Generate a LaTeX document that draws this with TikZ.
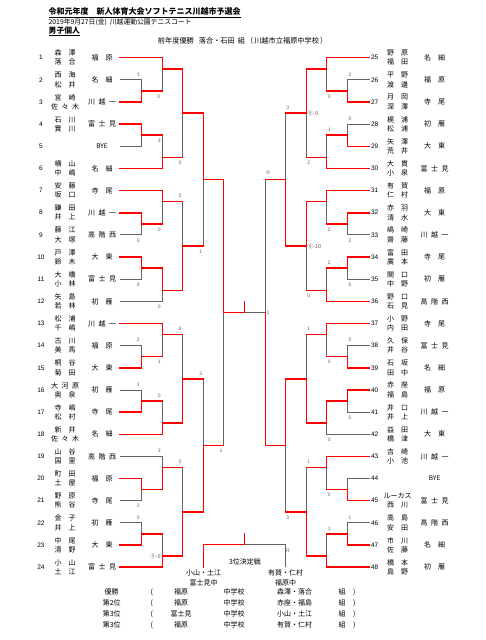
\documentclass[tikz,border=0pt]{standalone}
\usepackage{fontspec}
\setmainfont{Liberation Sans}
\newfontfamily\jp{Noto Sans CJK JP}
\definecolor{lg}{RGB}{100,100,100}
\definecolor{rd}{RGB}{255,0,0}
\newcommand\twoc[2]{#1\hspace{7pt}#2}
\newcommand\thrc[3]{#1\hspace{3.5pt}#2\hspace{3.5pt}#3}
\newcommand\Lrow[4]{%
  \pgfmathsetmacro\yy{57.7+22.15*(#1-1)}%
  \node[num] (Ln#1) at (41,\yy) {#1};
  \node[nm] (La#1) at (65,{\yy-4.6}) {#2};
  \node[nm] (Lb#1) at (65,{\yy+4.6}) {#3};
  \node[nm] (Ls#1) at (102,\yy) {#4};}
\newcommand\Rrow[4]{%
  \pgfmathsetmacro\yy{57.7+22.15*(#1-25)}%
  \node[num] (Rn#1) at (374.7,\yy) {#1};
  \node[nm] (Ra#1) at (397.7,{\yy-4.6}) {#2};
  \node[nm] (Rb#1) at (397.7,{\yy+4.6}) {#3};
  \node[nm] (Rs#1) at (434.7,\yy) {#4};}
\begin{document}
\begin{tikzpicture}[x=1pt,y=-1pt,
  declare function={ky(\k)=57.7+11.075*\k;},
  gl/.style={draw=lg,line width=0.9pt,line cap=rect},
  rl/.style={draw=rd,line width=1.5pt,line cap=rect},
  num/.style={inner sep=0pt,font=\fontsize{6.5}{7}\selectfont},
  nm/.style={inner sep=0pt,font=\jp\fontsize{7}{8}\selectfont},
  sc/.style={inner sep=0pt,font=\fontsize{5}{6}\selectfont,text=lg},
  scj/.style={inner sep=0pt,font=\jp\fontsize{5.5}{6}\selectfont,text=lg},
  bt/.style={inner sep=0pt,font=\jp\fontsize{7}{8}\selectfont}]
\fill[white] (0,0) rectangle (486,640);
\useasboundingbox (0,0) rectangle (486,640);

% header
\node[anchor=west,inner sep=0pt,font=\jp\bfseries\fontsize{8}{9}\selectfont] (title) at (48.5,12.5) {\underline{令和元年度　新人体育大会ソフトテニス川越市予選会}};
\node[anchor=west,inner sep=0pt,font=\jp\fontsize{6.8}{8}\selectfont] (date) at (48.5,22.5) {2019年9月27日(金)\hspace{3pt}川越運動公園テニスコート};
\node[anchor=west,inner sep=0pt,font=\jp\bfseries\fontsize{7.8}{9}\selectfont] (sex) at (48.5,31.5) {\underline{男子個人}};
\node[anchor=west,inner sep=0pt,font=\jp\fontsize{7.2}{8}\selectfont] (prev) at (157.7,40.5) {前年度優勝\hspace{5pt}落合・石田\hspace{3pt}組\hspace{1pt}（\hspace{1pt}川越市立福原中学校\hspace{1pt}）};

% gray leaves
\foreach \k/\xe in {2/141.7,8/141.7,16/141.7,20/141.7,22/162.3,26/141.7,30/141.7,36/162.3,40/141.7,42/141.7}
  \draw[gl] (120,{ky(\k)}) -- (\xe,{ky(\k)});
\foreach \k/\xe in {2/347.3,6/347.3,16/347.3,20/347.3,26/347.3,32/347.3,34/326.7,38/347.3,42/347.3}
  \draw[gl] (369.3,{ky(\k)}) -- (\xe,{ky(\k)});

% match verticals (gray)
\foreach \xv/\kt/\kb in {141.7/2/4,141.7/6/8,141.7/14/16,141.7/18/20,141.7/26/28,141.7/30/32,141.7/38/40,141.7/42/44,
  162.3/0/3,162.3/7/10,162.3/12/15,162.3/19/22,162.3/24/27,162.3/31/34,162.3/36/39,162.3/43/46,
  182.7/1/9,182.7/13/21,182.7/25/33,182.7/37/45,203.3/5/17,203.3/29/41,223.7/11/35,
  347.3/2/4,347.3/6/8,347.3/14/16,347.3/18/20,347.3/26/28,347.3/30/32,347.3/38/40,347.3/42/44,
  326.7/0/3,326.7/7/10,326.7/12/15,326.7/19/22,326.7/24/27,326.7/31/34,326.7/36/39,326.7/43/46,
  306.3/1/9,306.3/13/21,306.3/25/33,306.3/37/45,285.7/5/17,285.7/29/41,265.3/11/35}
  \draw[gl] (\xv,{ky(\kt)}) -- (\xv,{ky(\kb)});
\draw[gl] (265.3,{ky(23)}) -- (244.5,{ky(23)});

% red leaves
\foreach \k/\xe in {0/162.3,4/141.7,6/141.7,10/162.3,12/162.3,14/141.7,18/141.7,24/162.3,28/141.7,32/141.7,34/162.3,38/141.7,44/141.7,46/162.3}
  \draw[rl] (120,{ky(\k)}) -- (\xe,{ky(\k)});
\foreach \k/\xe in {0/326.7,4/347.3,8/347.3,10/326.7,12/326.7,14/347.3,18/347.3,22/326.7,24/326.7,28/347.3,30/347.3,36/326.7,40/347.3,44/347.3,46/326.7}
  \draw[rl] (369.3,{ky(\k)}) -- (\xe,{ky(\k)});

% winner paths (red)
\foreach \xv/\kw/\ko/\xo in {141.7/4/3/162.3,141.7/6/7/162.3,141.7/14/15/162.3,141.7/18/19/162.3,141.7/28/27/162.3,141.7/32/31/162.3,141.7/38/39/162.3,141.7/44/43/162.3,
  162.3/0/1/182.7,162.3/10/9/182.7,162.3/12/13/182.7,162.3/19/21/182.7,162.3/24/25/182.7,162.3/34/33/182.7,162.3/39/37/182.7,162.3/46/45/182.7,
  182.7/1/5/203.3,182.7/21/17/203.3,182.7/33/29/203.3,182.7/45/41/203.3,
  203.3/5/11/223.7,203.3/41/35/223.7,223.7/11/23/244.5,
  347.3/4/3/326.7,347.3/8/7/326.7,347.3/14/15/326.7,347.3/18/19/326.7,347.3/28/27/326.7,347.3/30/31/326.7,347.3/40/39/326.7,347.3/44/43/326.7,
  326.7/0/1/306.3,326.7/10/9/306.3,326.7/12/13/306.3,326.7/22/21/306.3,326.7/24/25/306.3,326.7/31/33/306.3,326.7/36/37/306.3,326.7/46/45/306.3,
  306.3/1/5/285.7,306.3/13/17/285.7,306.3/33/29/285.7,306.3/45/41/285.7,
  285.7/17/11/265.3,285.7/29/35/265.3}
  \draw[rl] (\xv,{ky(\kw)}) -- (\xv,{ky(\ko)}) -- (\xo,{ky(\ko)});
\draw[rl] (265.3,{ky(35)}) -- (265.3,{ky(23)});
\draw[rl] (244.5,{ky(22)}) -- (244.5,{ky(23)});

% score labels
\foreach \x/\k/\t [count=\n] in {138.3/1.5/3,158.7/3.5/0,159.3/7.5/3,180/9.5/0,
  180/12.5/2,138.3/16.5/0,159.3/15.5/0,138.3/20.5/0,159.3/22.5/0,200.7/17.5/1,
  180/24.5/3,138.3/25.5/2,159.3/27.5/1,138.3/29.5/3,159.3/30.5/0,200.7/28.5/3,
  159.3/35.5/3,138.3/40.5/2,180/36.5/0,138.3/41.5/0,221/35.5/1,
  350/1.5/2,329.3/3.5/0,350/5.5/0,329.3/6.5/1,308.7/9.5/2,287.7/4.5/3,
  350/16.5/2,329.3/15.5/2,350/20.5/0,329.3/18.5/2,308.7/21.5/0,
  308.7/24.5/1,350/25.5/0,329.3/27.5/0,350/32.5/0,329.3/34.5/0,
  308.7/36.5/1,329.3/39.5/0,350/41.5/1,329.3/42.5/1,287.7/41.5/3,
  268.3/10.4/R,268/23/1}
  \node[sc] (s\n) at (\x,{ky(\k)}) {\t};
\node[scj,anchor=east] (tb1) at (161,{ky(45)}) {⑤-6};
\node[scj,anchor=west] (tb2) at (307.5,{ky(5)}) {⑧-9};
\node[scj,anchor=west] (tb3) at (307.5,{ky(17)}) {⑧-10};

% left entries
\Lrow{1}{\twoc 森澤}{\twoc 落合}{\twoc 福原}
\Lrow{2}{\twoc 西海}{\twoc 松井}{\twoc 名細}
\Lrow{3}{\twoc 宮崎}{\thrc 佐々木}{\thrc 川越一}
\Lrow{4}{\twoc 石川}{\twoc 實川}{\thrc 富士見}
\Lrow{5}{}{}{\fontsize{6.5}{7}\selectfont BYE}
\Lrow{6}{\twoc 横山}{\twoc 中嶋}{\twoc 名細}
\Lrow{7}{\twoc 安藤}{\twoc 坂口}{\twoc 寺尾}
\Lrow{8}{\twoc 鎌田}{\twoc 井上}{\thrc 川越一}
\Lrow{9}{\twoc 藤江}{\twoc 大塚}{\thrc 高階西}
\Lrow{10}{\twoc 戸澤}{\twoc 鈴木}{\twoc 大東}
\Lrow{11}{\twoc 大橋}{\twoc 小林}{\thrc 富士見}
\Lrow{12}{\twoc 矢島}{\twoc 若林}{\twoc 初雁}
\Lrow{13}{\twoc 松浦}{\twoc 千嶋}{\thrc 川越一}
\Lrow{14}{\twoc 古川}{\twoc 美馬}{\twoc 福原}
\Lrow{15}{\twoc 桐谷}{\twoc 菊田}{\twoc 大東}
\Lrow{16}{\thrc 大河原}{\twoc 奥泉}{\twoc 初雁}
\Lrow{17}{\twoc 寺嶋}{\twoc 松村}{\twoc 寺尾}
\Lrow{18}{\twoc 新井}{\thrc 佐々木}{\twoc 名細}
\Lrow{19}{\twoc 山谷}{\twoc 国里}{\thrc 高階西}
\Lrow{20}{\twoc 町田}{\twoc 土屋}{\twoc 福原}
\Lrow{21}{\twoc 野原}{\twoc 熊谷}{\twoc 寺尾}
\Lrow{22}{\twoc 金子}{\twoc 井上}{\twoc 初雁}
\Lrow{23}{\twoc 中尾}{\twoc 清野}{\twoc 大東}
\Lrow{24}{\twoc 小山}{\twoc 土江}{\thrc 富士見}

% right entries
\Rrow{25}{\twoc 野原}{\twoc 福田}{\twoc 名細}
\Rrow{26}{\twoc 平野}{\twoc 渡邊}{\twoc 福原}
\Rrow{27}{\twoc 月岡}{\twoc 深澤}{\twoc 寺尾}
\Rrow{28}{\twoc 梶浦}{\twoc 松浦}{\twoc 初雁}
\Rrow{29}{\twoc 矢澤}{\twoc 荒井}{\twoc 大東}
\Rrow{30}{\twoc 大貫}{\twoc 小泉}{\thrc 富士見}
\Rrow{31}{\twoc 有賀}{\twoc 仁村}{\twoc 福原}
\Rrow{32}{\twoc 赤羽}{\twoc 清水}{\twoc 大東}
\Rrow{33}{\twoc 嶋崎}{\twoc 齋藤}{\thrc 川越一}
\Rrow{34}{\twoc 富田}{\twoc 廣本}{\twoc 寺尾}
\Rrow{35}{\twoc 関口}{\twoc 中野}{\twoc 初雁}
\Rrow{36}{\twoc 野口}{\twoc 石見}{\thrc 高階西}
\Rrow{37}{\twoc 小野}{\twoc 内田}{\twoc 寺尾}
\Rrow{38}{\twoc 久保}{\twoc 井谷}{\thrc 富士見}
\Rrow{39}{\twoc 石坂}{\twoc 田中}{\twoc 名細}
\Rrow{40}{\twoc 赤座}{\twoc 福島}{\twoc 福原}
\Rrow{41}{\twoc 井口}{\twoc 井上}{\thrc 川越一}
\Rrow{42}{\twoc 益田}{\twoc 橋津}{\twoc 大東}
\Rrow{43}{\twoc 吉崎}{\twoc 小池}{\thrc 川越一}
\Rrow{44}{}{}{\fontsize{6.5}{7}\selectfont BYE}
\Rrow{45}{ルーカス}{\twoc 西川}{\thrc 富士見}
\Rrow{46}{\twoc 高島}{\twoc 安田}{\thrc 高階西}
\Rrow{47}{\twoc 市川}{\twoc 佐藤}{\twoc 名細}
\Rrow{48}{\twoc 橋本}{\twoc 島野}{\twoc 初雁}

% third place match
\coordinate (tpL) at (203.3,567);
\coordinate (tpR) at (285.3,567);
\coordinate (tpM) at (244.5,544.3);
\draw[gl] (tpM) -- (tpR |- tpM) -- (tpR);
\draw[rl] (tpL) -- (tpL |- tpM) -- (tpM);
\draw[rl] (244.5,533.3) -- (tpM);
\node[sc] (tpr) at (288,550.7) {R};
\node[bt] (tpt) at (245,561.7) {3位決定戦};
\node[bt] (tpa) at (203.5,573) {小山・土江};
\node[bt] (tpb) at (203.5,583) {富士見中};
\node[bt] (tpc) at (285.7,573) {有賀・仁村};
\node[bt] (tpd) at (285.7,583) {福原中};

% results table
\foreach \r/\yy/\pl/\sch/\pr in {1/592.3/優勝/福原/森澤・落合,2/603.3/第2位/福原/赤座・福島,3/614/第3位/富士見/小山・土江,4/625/第3位/福原/有賀・仁村}{
  \node[bt] (rp\r) at (111.7,\yy) {\pl};
  \node[bt] (ro\r) at (151.7,\yy) {(};
  \node[bt] (rs\r) at (181,\yy) {\sch};
  \node[bt] (rc\r) at (234,\yy) {中学校};
  \node[bt] (rn\r) at (294.7,\yy) {\pr};
  \node[bt] (rk\r) at (342,\yy) {組};
  \node[bt] (rz\r) at (354.3,\yy) {)};
}
\end{tikzpicture}
\end{document}
